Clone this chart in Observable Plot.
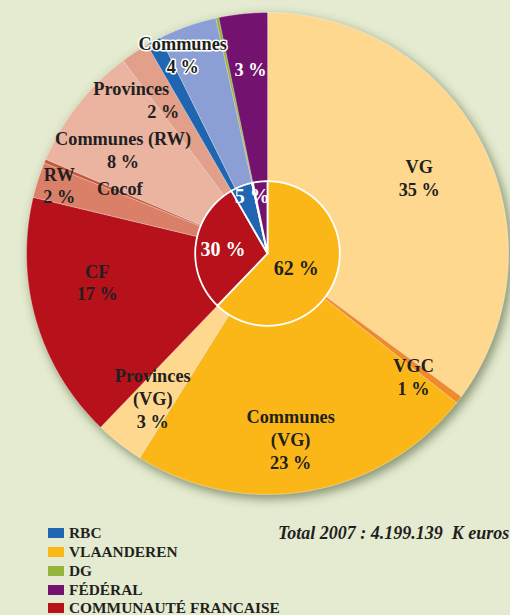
<!DOCTYPE html>
<html><head><meta charset="utf-8">
<script src="https://cdn.jsdelivr.net/npm/d3@7"></script>
<script src="https://cdn.jsdelivr.net/npm/@observablehq/plot@0.6"></script>
<style>
html,body{margin:0;padding:0;background:#e4ebd0;}
#wrap{position:relative;width:510px;height:615px;overflow:hidden;font-family:"Liberation Serif",serif;color:#231f20;}
#chart{position:absolute;left:0;top:0;}
#legend{position:absolute;left:48px;top:523.7px;}
.row{display:flex;align-items:center;height:18.85px;font-weight:bold;font-size:15.4px;white-space:nowrap;}
.sw{width:16px;height:10px;margin-right:5px;flex:none;}
#total{position:absolute;left:278px;top:523px;font-style:italic;font-weight:bold;font-size:18px;white-space:pre;}
</style></head>
<body><div id="wrap"><div id="chart"></div><div id="legend"></div><div id="total"></div></div>
<script>
// ---------- DATA ----------
const outerCategories = ["VG","VGC","Communes (VG)","Provinces (VG)","CF","RW","Cocof","Communes (RW)","Provinces (RW)","RBC","Communes (RBC)","DG","Fédéral"];
const outerShares     = [35.2, 0.5, 23.3, 3.3, 16.6, 2.4, 0.25, 8.4, 1.9, 1.0, 3.9, 0.2, 3.25];
const outerGroups     = ["VLAANDEREN","VLAANDEREN","VLAANDEREN","VLAANDEREN","COMMUNAUTÉ FRANCAISE","COMMUNAUTÉ FRANCAISE","COMMUNAUTÉ FRANCAISE","COMMUNAUTÉ FRANCAISE","COMMUNAUTÉ FRANCAISE","RBC","RBC","DG","FÉDÉRAL"];
const outerNames      = ["VG","VGC","Communes\n(VG)","Provinces\n(VG)","CF","RW","Cocof","Communes (RW)","Provinces","","Communes","",""];
const outerPctLabels  = ["35 %","1 %","23 %","3 %","17 %","2 %","","8 %","2 %","","4 %","","3 %"];
const innerGroups     = ["VLAANDEREN","COMMUNAUTÉ FRANCAISE","RBC","DG","FÉDÉRAL"];
const innerPctLabels  = ["62 %","30 %","5 %","",""];
const legendItems     = ["RBC","VLAANDEREN","DG","FÉDÉRAL","COMMUNAUTÉ FRANCAISE"];
const totalText       = "Total 2007 : 4.199.139  K euros";

// ---------- STYLES / LAYOUT ----------
const outerColors = {"VG":"#fed88e","VGC":"#f28a2a","Communes (VG)":"#fbb717","Provinces (VG)":"#fed88e","CF":"#b7111b","RW":"#da7f68","Cocof":"#c9553a","Communes (RW)":"#eab4a0","Provinces (RW)":"#e2a08b","RBC":"#2065b1","Communes (RBC)":"#8c9fd4","DG":"#93b53b","Fédéral":"#74126f"};
const groupColors = {"VLAANDEREN":"#fbb717","COMMUNAUTÉ FRANCAISE":"#b7111b","RBC":"#2065b1","DG":"#93b53b","FÉDÉRAL":"#74126f"};
// [angle offset from slice middle (deg), radius fraction, split dx name, split dx pct]
const outerLabelLayout = {"VG":[0,0.705],"VGC":[2.7,0.792],"Communes (VG)":[2.75,0.774],"Provinces (VG)":[0.6,0.765],"CF":[6.95,0.716],"RW":[0.5,0.91],"Cocof":[1.35,0.67],"Communes (RW)":[-2.2,0.74],"Provinces (RW)":[-4.5,0.812,-16,16],"Communes (RBC)":[-3.6,0.90],"Fédéral":[0.6,0.77]};
const outerLabelStyle = {"Communes (RBC)":"halo","Fédéral":"light"};
const innerLabelLayout = {"VLAANDEREN":[3.5,0.132],"COMMUNAUTÉ FRANCAISE":[-0.5,0.186],"RBC":[6.4,0.249]};
const innerLabelStyle = {"VLAANDEREN":"dark","COMMUNAUTÉ FRANCAISE":"light","RBC":"light"};

const W = 510, H = 520, R = 241, cx = 267, cy = 253, innerFrac = 0.3;
const rad = Math.PI / 180;
const outerFont = 18.3, innerFont = 20, lh = 1.25;

function angles(values) {
  const total = d3.sum(values); let acc = 0;
  return values.map(v => { const a0 = acc / total * 360; acc += v; return [a0, acc / total * 360]; });
}
function wedge(key, color, a0, a1, r) {
  const pts = [{key, color, x: 0, y: 0}];
  const n = Math.max(2, Math.ceil((a1 - a0) / 0.4));
  for (let i = 0; i <= n; i++) {
    const a = (a0 + (a1 - a0) * i / n) * rad;
    pts.push({key, color, x: r * Math.sin(a), y: r * Math.cos(a)});
  }
  return pts;
}
const polar = (a, r) => ({x: r * Math.sin(a * rad), y: r * Math.cos(a * rad)});

// outer slices
const outerAng = angles(outerShares);
const outerPts = outerCategories.flatMap((c, i) => wedge("o" + i, outerColors[c], outerAng[i][0], outerAng[i][1], 1));
// inner slices (sums by group)
const innerVals = innerGroups.map(g => d3.sum(outerShares.filter((v, i) => outerGroups[i] === g)));
const innerAng = angles(innerVals);
const innerPts = innerGroups.flatMap((g, i) => wedge("i" + i, groupColors[g], innerAng[i][0], innerAng[i][1], innerFrac));

// labels
const labels = [];
outerCategories.forEach((c, i) => {
  const L = outerLabelLayout[c]; if (!L) return;
  const mid = (outerAng[i][0] + outerAng[i][1]) / 2;
  const p = polar(mid + L[0], L[1]);
  const style = outerLabelStyle[c] || "dark";
  const name = outerNames[i], pct = outerPctLabels[i];
  if (L.length > 2) {
    const off = lh * outerFont / 2 / R;
    labels.push({x: p.x + L[2] / R, y: p.y + off, text: name, style, size: outerFont});
    labels.push({x: p.x + L[3] / R, y: p.y - off, text: pct, style, size: outerFont});
  } else {
    labels.push({x: p.x, y: p.y, text: [name, pct].filter(s => s).join("\n"), style, size: outerFont});
  }
});
innerGroups.forEach((g, i) => {
  const L = innerLabelLayout[g]; if (!L || !innerPctLabels[i]) return;
  const mid = (innerAng[i][0] + innerAng[i][1]) / 2;
  const p = polar(mid + L[0], L[1]);
  labels.push({x: p.x, y: p.y, text: innerPctLabels[i], style: innerLabelStyle[g], size: innerFont});
});

const textOpts = () => ({x: "x", y: "y", text: "text", fontSize: d => d.size, fontWeight: "bold",
  fontFamily: "Liberation Serif", lineHeight: lh});

const plot = Plot.plot({
  width: W, height: H, margin: 0,
  style: {background: "transparent", overflow: "visible"},
  x: {domain: [-cx / R, (W - cx) / R], range: [0, W], axis: null},
  y: {domain: [-(H - cy) / R, cy / R], range: [H, 0], axis: null},
  marks: [
    Plot.dot([{x: 0, y: 0}], {x: "x", y: "y", r: R + 1, fill: "#46522e", fillOpacity: 0.55, stroke: "none", dx: 3, dy: 4}),
    Plot.line(outerPts, {x: "x", y: "y", z: "key", fill: "color", stroke: "#ffffff", strokeWidth: 0.6, strokeOpacity: 0.6, curve: "linear-closed"}),
    Plot.line(innerPts, {x: "x", y: "y", z: "key", fill: "color", stroke: "#ffffff", strokeWidth: 1.8, strokeLinejoin: "round", curve: "linear-closed"}),
    Plot.text(labels.filter(d => d.style === "halo"), {...textOpts(), fill: "#231f20", stroke: "white", strokeWidth: 3}),
    Plot.text(labels.filter(d => d.style === "dark"), {...textOpts(), fill: "#231f20"}),
    Plot.text(labels.filter(d => d.style === "light"), {...textOpts(), fill: "white"})
  ]
});
// blur the shadow disc
const ns = "http://www.w3.org/2000/svg";
const defs = document.createElementNS(ns, "defs");
defs.innerHTML = '<filter id="pieShadow" x="-20%" y="-20%" width="140%" height="140%"><feGaussianBlur stdDeviation="5"/></filter>';
plot.insertBefore(defs, plot.firstChild);
const dotG = plot.querySelector('g[aria-label="dot"]');
if (dotG) dotG.setAttribute("filter", "url(#pieShadow)");
document.getElementById("chart").appendChild(plot);

// legend
const leg = document.getElementById("legend");
legendItems.forEach(g => {
  const row = document.createElement("div"); row.className = "row";
  const sw = document.createElement("span"); sw.className = "sw"; sw.style.background = groupColors[g];
  const t = document.createElement("span"); t.textContent = g;
  row.appendChild(sw); row.appendChild(t); leg.appendChild(row);
});
document.getElementById("total").textContent = totalText;
</script>
</body></html>
